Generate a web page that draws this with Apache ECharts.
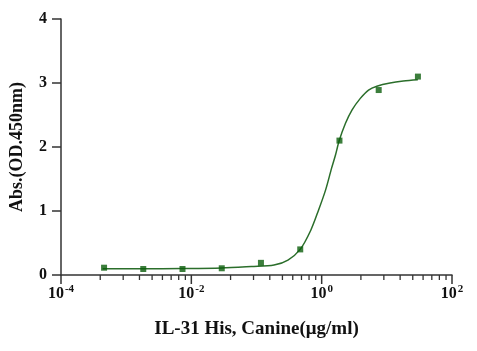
<!DOCTYPE html>
<html>
<head>
<meta charset="utf-8">
<script src="https://cdn.jsdelivr.net/npm/echarts@6/dist/echarts.min.js"></script>
<style>
  html, body { margin: 0; padding: 0; background: #fff; }
  #chart { width: 477px; height: 351px; }
</style>
</head>
<body>
<div id="chart"></div>
<script>
// measured points
var concentration = [0.000458, 0.00183, 0.00732, 0.0293, 0.117, 0.469, 1.875, 7.5, 30];
var absorbance = [0.114, 0.094, 0.094, 0.105, 0.19, 0.40, 2.10, 2.89, 3.10];

// fitted curve
var fitX = [0.000436, 0.00177, 0.00717, 0.0291, 0.0832, 0.186, 0.304, 0.468, 0.681, 0.90, 1.15, 1.42, 1.63, 1.86, 2.32, 2.93, 3.92, 5.24, 7.03, 11.2, 17.9, 29.9];
var fitY = [0.097, 0.097, 0.10, 0.109, 0.133, 0.156, 0.234, 0.40, 0.70, 1.02, 1.33, 1.67, 1.875, 2.10, 2.37, 2.58, 2.76, 2.89, 2.95, 3.00, 3.03, 3.05];

// x tick values (prism style: minor ticks at k^2 inside each 2-decade span)
var majorTicks = [1e-4, 1e-2, 1, 1e2];
var minorTicks = [4e-4, 9e-4, 16e-4, 25e-4, 36e-4, 49e-4, 64e-4, 81e-4,
  4e-2, 9e-2, 16e-2, 25e-2, 36e-2, 49e-2, 64e-2, 81e-2,
  4, 9, 16, 25, 36, 49, 64, 81];
var yTicks = [0, 1, 2, 3, 4];

var font = '"Liberation Serif", "Times New Roman", serif';
var axisColor = '#333';
var MAJOR_LEN = 9, MINOR_LEN = 5;

var tickData = majorTicks.map(function (v) { return [v, 0, MAJOR_LEN]; })
  .concat(minorTicks.map(function (v) { return [v, 0, MINOR_LEN]; }));

var myChart = echarts.init(document.getElementById('chart'));
var option = {
  animation: false,
  grid: { left: 58, right: 25, top: 19, bottom: 76 },
  xAxis: {
    type: 'log',
    min: 1e-4,
    max: 1e2,
    name: 'IL-31 His, Canine(μg/ml)',
    nameLocation: 'middle',
    nameGap: 45,
    nameTextStyle: { fontFamily: font, fontWeight: 'bold', fontSize: 19, color: '#111' },
    axisLine: { show: true, lineStyle: { color: axisColor, width: 1.5 } },
    axisTick: { show: false },
    splitLine: { show: false },
    axisLabel: {
      customValues: majorTicks,
      margin: 9,
      formatter: function (v) {
        return '{b|10}{s|' + Math.round(Math.log10(v)) + '}';
      },
      rich: {
        b: { fontFamily: font, fontWeight: 'bold', fontSize: 16, color: '#111' },
        s: { fontFamily: font, fontWeight: 'bold', fontSize: 11, color: '#111', padding: [0, 0, 8, 1] }
      }
    }
  },
  yAxis: {
    type: 'value',
    min: 0,
    max: 4,
    interval: 1,
    name: 'Abs.(OD.450nm)',
    nameLocation: 'middle',
    nameGap: 35,
    nameTextStyle: { fontFamily: font, fontWeight: 'bold', fontSize: 18, color: '#111' },
    axisLine: { show: true, lineStyle: { color: axisColor, width: 1.5 } },
    axisTick: { show: true, length: 9, lineStyle: { color: axisColor, width: 1.5 } },
    splitLine: { show: false },
    axisLabel: {
      margin: 14,
      fontFamily: font, fontWeight: 'bold', fontSize: 16, color: '#111',
      formatter: function (v) { return yTicks.indexOf(v) >= 0 ? String(v) : ''; }
    }
  },
  series: [{
    // x axis ticks, placed through the log scale
    type: 'custom',
    silent: true,
    clip: false,
    encode: { x: 0, y: 1 },
    data: tickData,
    renderItem: function (params, api) {
      var p = api.coord([api.value(0), 0]);
      var len = api.value(2);
      return {
        type: 'line',
        shape: { x1: p[0], y1: p[1], x2: p[0], y2: p[1] + len },
        style: { stroke: axisColor, lineWidth: len === MAJOR_LEN ? 1.5 : 1.3 }
      };
    },
    z: 1
  }, {
    type: 'line',
    data: fitX.map(function (x, i) { return [x, fitY[i]]; }),
    showSymbol: false,
    smooth: 0.3,
    lineStyle: { color: '#2b6e2b', width: 1.5 },
    z: 2
  }, {
    type: 'scatter',
    data: concentration.map(function (x, i) { return [x, absorbance[i]]; }),
    symbol: 'rect',
    symbolSize: 6,
    itemStyle: { color: '#0b5e0b' },
    z: 3
  }]
};
myChart.setOption(option);
window.addEventListener('resize', function () {
  myChart.resize();
});
</script>
</body>
</html>
